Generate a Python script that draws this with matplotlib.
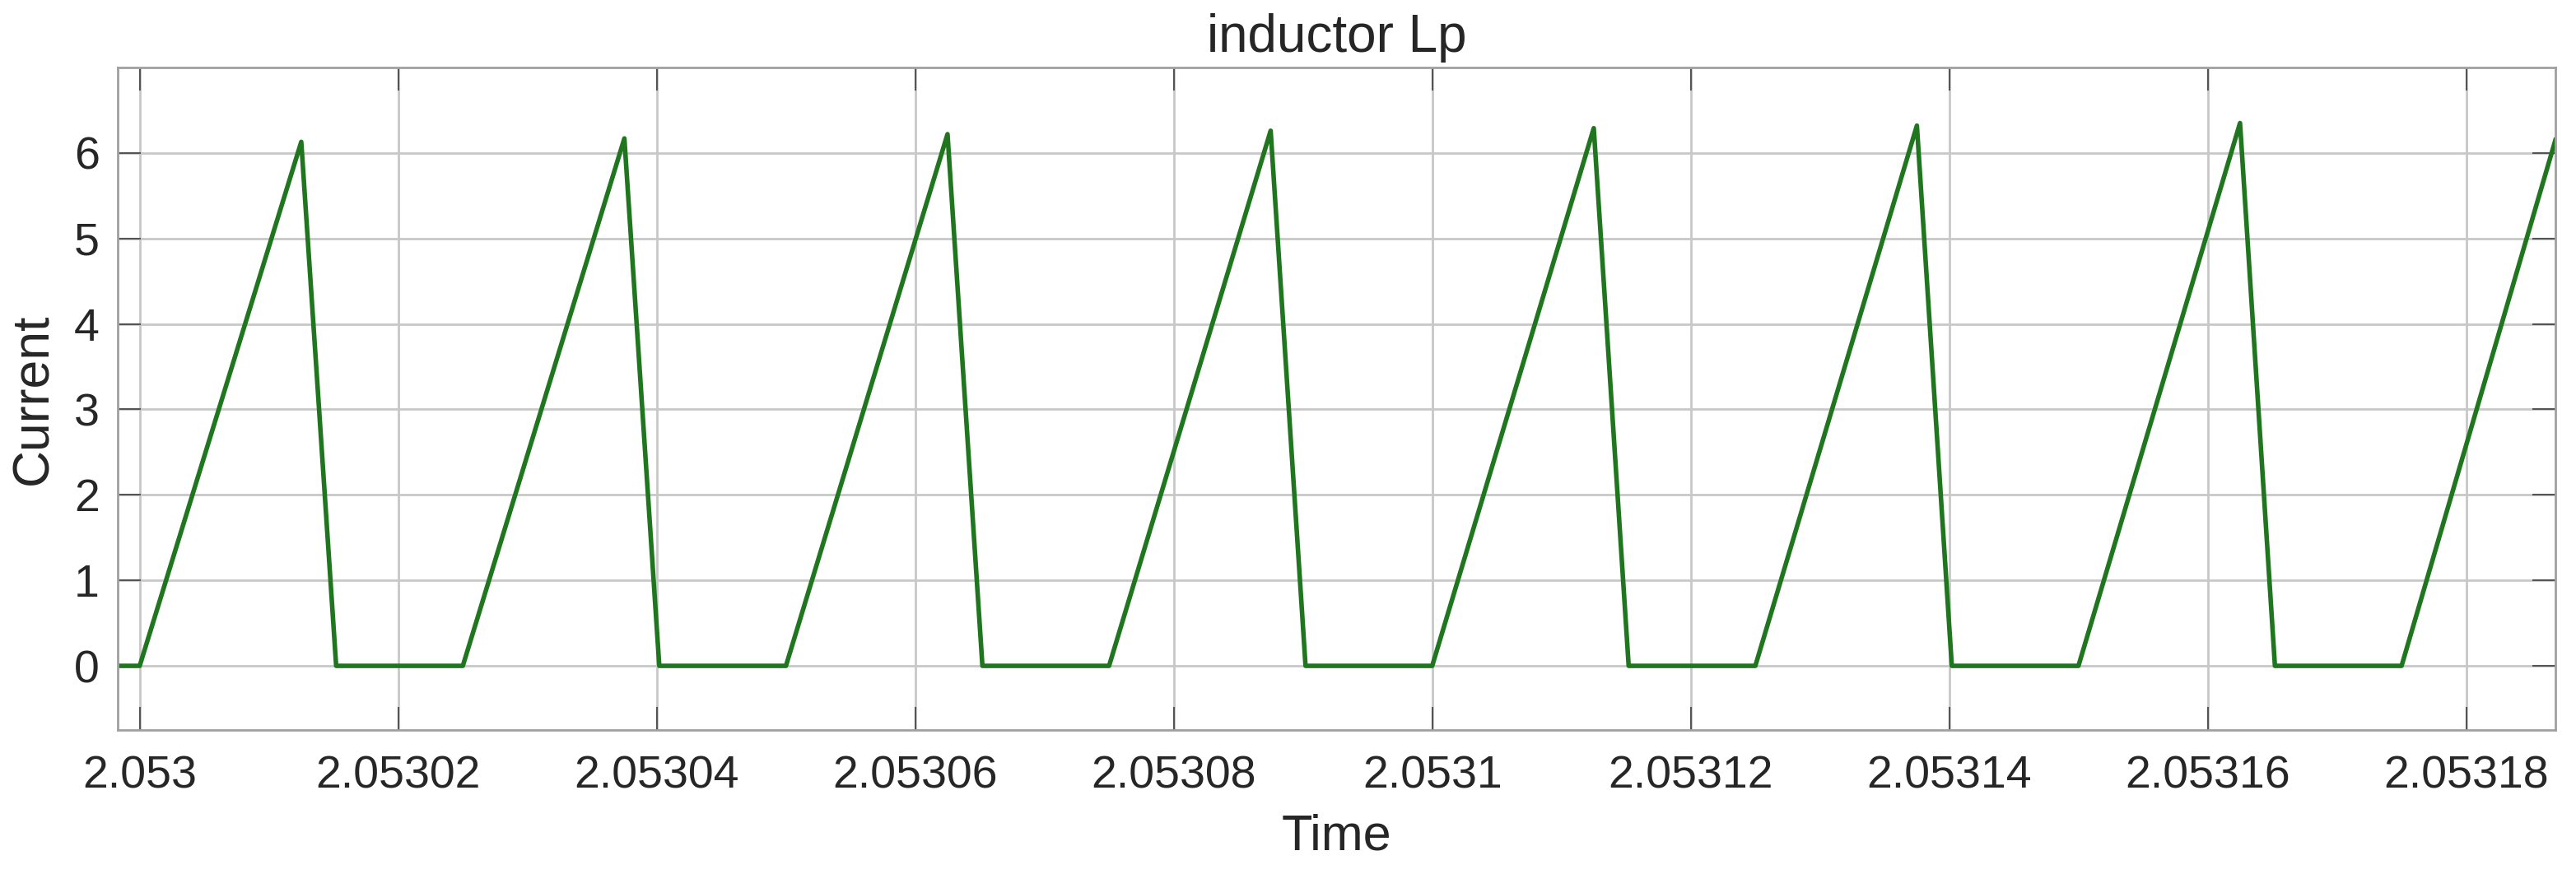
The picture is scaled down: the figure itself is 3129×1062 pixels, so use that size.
import matplotlib
matplotlib.use("Agg")
import matplotlib.pyplot as plt

# breakpoints of the inductor current waveform
time_s = [2.0529983, 2.0530000, 2.0530125, 2.0530152, 2.0530250,
          2.0530375, 2.0530402, 2.0530500, 2.0530625, 2.0530652,
          2.0530750, 2.0530875, 2.0530902, 2.0531000, 2.0531125,
          2.0531152, 2.0531250, 2.0531375, 2.0531402, 2.0531500,
          2.0531625, 2.0531652, 2.0531750, 2.0531869]
current = [0, 0, 6.13, 0, 0,
           6.17, 0, 0, 6.22, 0,
           0, 6.26, 0, 0, 6.29,
           0, 0, 6.32, 0, 0,
           6.35, 0, 0, 6.15]

xticks = [2.053, 2.05302, 2.05304, 2.05306, 2.05308,
          2.0531, 2.05312, 2.05314, 2.05316, 2.05318]
xtick_labels = ["2.053", "2.05302", "2.05304", "2.05306", "2.05308",
                "2.0531", "2.05312", "2.05314", "2.05316", "2.05318"]
yticks = [0, 1, 2, 3, 4, 5, 6]

plt.rcParams["font.family"] = ["Liberation Sans", "DejaVu Sans"]
text_col = "#262626"

fig = plt.figure(figsize=(31.29, 10.62), dpi=100)
ax = fig.add_axes([0.0457, 0.1648, 0.9463, 0.758])

ax.plot(time_s, current, color="#1f761f", lw=4.0, solid_joinstyle="round")

ax.set_xlim(2.0529983, 2.0531869)
ax.set_ylim(-0.75, 7)
ax.set_xticks(xticks, xtick_labels)
ax.set_yticks(yticks)

ax.grid(True, color="#c8c8c8", lw=2.0)
ax.set_axisbelow(True)
for sp in ax.spines.values():
    sp.set_color("#a0a0a0")
    sp.set_linewidth(2.0)

ax.tick_params(direction="in", length=20, width=1.5, color="#555555",
               top=True, right=True, labelsize=40, labelcolor=text_col)
ax.tick_params(axis="x", pad=22)
ax.tick_params(axis="y", pad=16)

ax.set_xlabel("Time", fontsize=44, color=text_col, labelpad=14)
ax.set_ylabel("Current", fontsize=45, color=text_col, labelpad=14)
ax.set_title("inductor Lp", fontsize=46, color=text_col, pad=14)

fig.savefig("out.png", dpi=100)
